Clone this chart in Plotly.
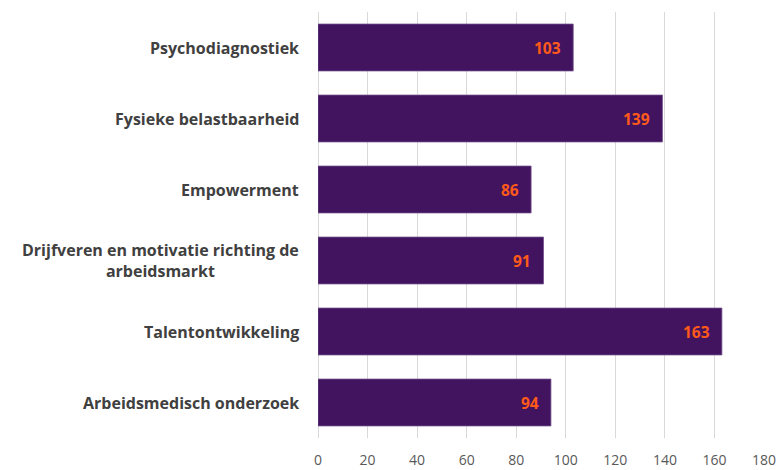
import plotly.graph_objects as go

categories = ["Psychodiagnostiek", "Fysieke belastbaarheid", "Empowerment",
              "Drijfveren en motivatie richting de<br>arbeidsmarkt",
              "Talentontwikkeling", "Arbeidsmedisch onderzoek"]
values = [103, 139, 86, 91, 163, 94]
x_ticks = [0, 20, 40, 60, 80, 100, 120, 140, 160, 180]

bar_color = "#42145F"
value_color = "#FF5A1A"
label_color = "#404040"
label_font = "'Open Sans', sans-serif"
num_font = "'Open Sans', sans-serif"

fig = go.Figure(go.Bar(
    x=values, y=categories, orientation="h",
    marker=dict(color=bar_color, line=dict(color="#6E4D8C", width=0.8)),
    width=0.66, hoverinfo="skip",
))

annotations = []
for c, v in zip(categories, values):
    annotations.append(dict(x=v, y=c, xref="x", yref="y", text=f"<b>{v}</b>",
                            showarrow=False, xanchor="right", xshift=-10,
                            font=dict(color=value_color, size=15.5, family=num_font)))
    annotations.append(dict(x=0, y=c, xref="paper", yref="y", text=f"<b>{c}</b>",
                            showarrow=False, xanchor="right", xshift=-17, align="center",
                            font=dict(color=label_color, size=16, family=label_font)))

fig.update_layout(
    width=779, height=470,
    margin=dict(l=318, r=15, t=12, b=32, autoexpand=False),
    paper_bgcolor="white", plot_bgcolor="white",
    showlegend=False,
    annotations=annotations,
    xaxis=dict(range=[0, 180], tickvals=x_ticks, showgrid=True, gridcolor="#D9D9D9",
               gridwidth=1, zeroline=True, zerolinecolor="#D9D9D9", zerolinewidth=1,
               showline=False, ticks="", ticklabelstandoff=12, ticklabeloverflow="allow",
               automargin=False,
               tickfont=dict(color="#595959", size=14, family=num_font)),
    yaxis=dict(categoryorder="array", categoryarray=categories, autorange="reversed",
               showticklabels=False, showgrid=False, zeroline=False, ticks="",
               automargin=False),
)

fig.write_html("out.html", config={"displayModeBar": False},
               post_script="document.body.style.margin='0';document.body.style.overflow='hidden';")
